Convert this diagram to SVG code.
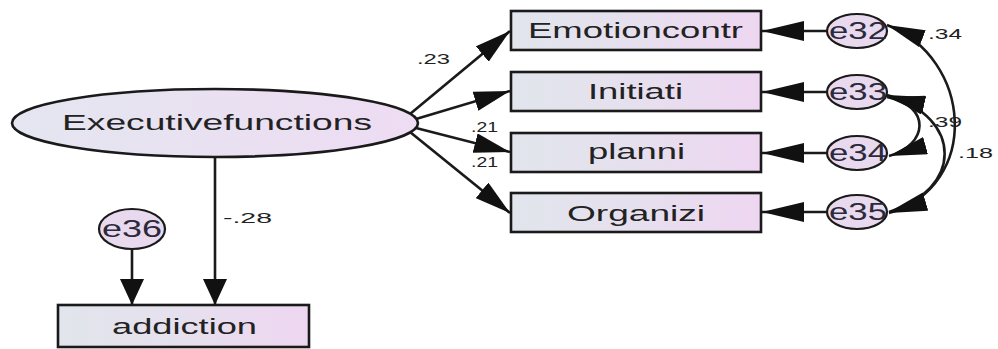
<svg xmlns="http://www.w3.org/2000/svg" width="998" height="349" viewBox="0 0 998 349">
  <defs>
    <linearGradient id="gBox" x1="0" y1="0" x2="1" y2="0">
      <stop offset="0" stop-color="#e1e5ec"/>
      <stop offset="0.5" stop-color="#e6e0ee"/>
      <stop offset="1" stop-color="#eed6f1"/>
    </linearGradient>
    <linearGradient id="gEll" x1="0" y1="0" x2="1" y2="0">
      <stop offset="0" stop-color="#e4e6f0"/>
      <stop offset="1" stop-color="#eedcf3"/>
    </linearGradient>
    <marker id="ah" markerUnits="userSpaceOnUse" markerWidth="42" markerHeight="20" viewBox="0 0 42 20" refX="42" refY="10" orient="auto">
      <path d="M0,0 L42,10 L0,20 z" fill="#111"/>
    </marker>
    <marker id="ad" markerUnits="userSpaceOnUse" markerWidth="36" markerHeight="20" viewBox="0 0 36 20" refX="36" refY="10" orient="auto">
      <path d="M0,0 L36,10 L0,20 z" fill="#111"/>
    </marker>
    <marker id="av" markerUnits="userSpaceOnUse" markerWidth="26" markerHeight="24" viewBox="0 0 26 24" refX="26" refY="12" orient="auto">
      <path d="M0,0 L26,12 L0,24 z" fill="#111"/>
    </marker>
    <marker id="ac" markerUnits="userSpaceOnUse" markerWidth="38" markerHeight="18" viewBox="0 0 38 18" refX="38" refY="9" orient="auto-start-reverse">
      <path d="M0,0 L38,9 L0,18 z" fill="#111"/>
    </marker>
  </defs>
  <style>
    .box { fill: url(#gBox); stroke: #1a1a1a; stroke-width: 2.6; }
    .ell { fill: url(#gEll); stroke: #1a1a1a; stroke-width: 2.6; }
    .err { fill: #e8d9ef; stroke: #1a1a1a; stroke-width: 2.2; }
    .lbl { font-family: "Liberation Sans", Arial, sans-serif; font-size: 22px; fill: #222; }
    .elbl { font-family: "Liberation Sans", Arial, sans-serif; font-size: 23px; fill: #2a2a3a; }
    .num { font-family: "Liberation Sans", Arial, sans-serif; font-size: 15px; fill: #222; }
    .ln { fill: none; stroke: #1a1a1a; stroke-width: 2.6; }
    .cv { fill: none; stroke: #1a1a1a; stroke-width: 2.6; }
  </style>
  <rect x="0" y="0" width="998" height="349" fill="#ffffff"/>

  <g id="node-executivefunctions">
    <ellipse class="ell" cx="215" cy="123" rx="203" ry="34"/>
    <text class="lbl" x="62" y="130" textLength="310" lengthAdjust="spacingAndGlyphs">Executivefunctions</text>
  </g>
  <g id="node-emotioncontr">
    <rect class="box" x="511" y="11" width="250" height="39"/>
    <text class="lbl" x="528" y="38" textLength="215" lengthAdjust="spacingAndGlyphs">Emotioncontr</text>
  </g>
  <g id="node-initiati">
    <rect class="box" x="511" y="72" width="250" height="39"/>
    <text class="lbl" x="588" y="99" textLength="95" lengthAdjust="spacingAndGlyphs">Initiati</text>
  </g>
  <g id="node-planni">
    <rect class="box" x="511" y="133" width="250" height="39"/>
    <text class="lbl" x="588" y="159" textLength="97" lengthAdjust="spacingAndGlyphs">planni</text>
  </g>
  <g id="node-organizi">
    <rect class="box" x="511" y="193" width="250" height="39"/>
    <text class="lbl" x="567" y="221" textLength="138" lengthAdjust="spacingAndGlyphs">Organizi</text>
  </g>
  <g id="node-addiction">
    <rect class="box" x="58" y="305" width="251" height="42"/>
    <text class="lbl" x="112" y="334" textLength="145" lengthAdjust="spacingAndGlyphs">addiction</text>
  </g>
  <g id="node-e32">
    <ellipse class="err" cx="857" cy="31" rx="30" ry="17"/>
    <text class="elbl" x="829" y="39" textLength="58" lengthAdjust="spacingAndGlyphs">e32</text>
  </g>
  <g id="node-e33">
    <ellipse class="err" cx="857" cy="92" rx="30" ry="17"/>
    <text class="elbl" x="829" y="100" textLength="58" lengthAdjust="spacingAndGlyphs">e33</text>
  </g>
  <g id="node-e34">
    <ellipse class="err" cx="857" cy="153" rx="30" ry="17"/>
    <text class="elbl" x="829" y="161" textLength="58" lengthAdjust="spacingAndGlyphs">e34</text>
  </g>
  <g id="node-e35">
    <ellipse class="err" cx="857" cy="212" rx="30" ry="17"/>
    <text class="elbl" x="829" y="220" textLength="58" lengthAdjust="spacingAndGlyphs">e35</text>
  </g>
  <g id="node-e36">
    <ellipse class="err" cx="132" cy="229" rx="33" ry="20"/>
    <text class="elbl" x="102" y="237" textLength="60" lengthAdjust="spacingAndGlyphs">e36</text>
  </g>

  <g id="connectors">
    <path class="ln" d="M410,114 L510,31" marker-end="url(#ad)"/>
    <path class="ln" d="M416,119 L510,91" marker-end="url(#ad)"/>
    <path class="ln" d="M416,128 L510,152" marker-end="url(#ad)"/>
    <path class="ln" d="M410,132 L510,213" marker-end="url(#ad)"/>
    <path class="ln" d="M215,157 L215,305" marker-end="url(#av)"/>
    <path class="ln" d="M132,249 L132,305" marker-end="url(#av)"/>
    <path class="ln" d="M827,31 L762,31" marker-end="url(#ah)"/>
    <path class="ln" d="M827,92 L762,92" marker-end="url(#ah)"/>
    <path class="ln" d="M827,153 L762,153" marker-end="url(#ah)"/>
    <path class="ln" d="M827,212 L762,212" marker-end="url(#ah)"/>
    <path class="cv" d="M887,25 C972,58 982,185 889,213" marker-start="url(#ac)" marker-end="url(#ac)"/>
    <path class="cv" d="M887,95 C965,118 962,190 889,212" marker-start="url(#ac)" marker-end="url(#ac)"/>
    <path class="cv" d="M887,97 C932,106 928,145 889,156" marker-start="url(#ac)" marker-end="url(#ac)"/>
    <text class="num" x="417" y="64" textLength="33" lengthAdjust="spacingAndGlyphs">.23</text>
    <text class="num" x="471" y="132" textLength="27" lengthAdjust="spacingAndGlyphs">.21</text>
    <text class="num" x="471" y="167" textLength="27" lengthAdjust="spacingAndGlyphs">.21</text>
    <text class="num" x="223" y="223" textLength="49" lengthAdjust="spacingAndGlyphs">-.28</text>
    <text class="num" x="928" y="39" textLength="34" lengthAdjust="spacingAndGlyphs">.34</text>
    <text class="num" x="928" y="127" textLength="34" lengthAdjust="spacingAndGlyphs">.39</text>
    <text class="num" x="958" y="158" textLength="35" lengthAdjust="spacingAndGlyphs">.18</text>
  </g>
</svg>
